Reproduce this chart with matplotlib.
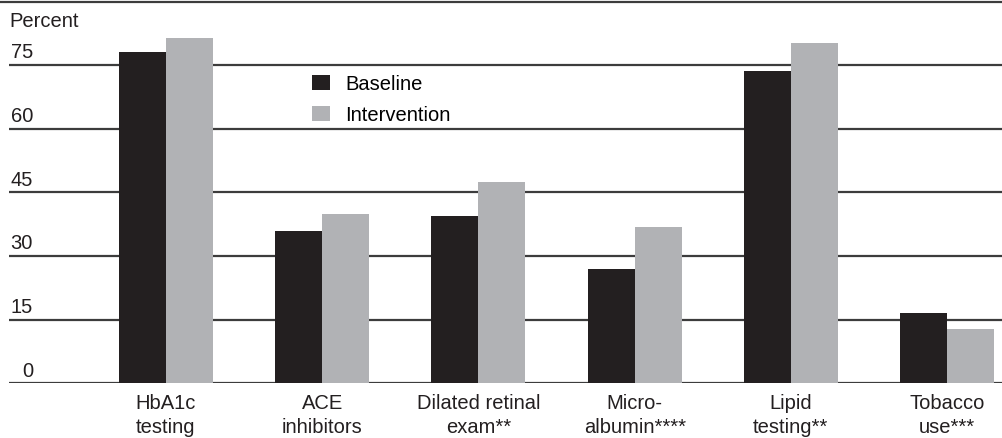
import numpy as np
import matplotlib.pyplot as plt
from matplotlib.lines import Line2D

plt.rcParams['font.family'] = ['Liberation Sans', 'DejaVu Sans']

# Diabetes care measures, baseline vs intervention (percent)
categories = ['HbA1c\ntesting', 'ACE\ninhibitors', 'Dilated retinal\nexam**',
              'Micro-\nalbumin****', 'Lipid\ntesting**', 'Tobacco\nuse***']
baseline = [78.0, 35.9, 39.5, 27.0, 73.7, 16.6]
intervention = [81.5, 39.9, 47.5, 36.9, 80.3, 12.8]
yticks = [0, 15, 30, 45, 60, 75]

black = '#231f20'
grey = '#b1b2b5'
linecol = '#3c3c3c'
fs = 14.5

W, H = 1003, 438
fig = plt.figure(figsize=(W / 100, H / 100), dpi=100)
# axes box in pixels: left 9, right 1003, bottom y=383.3, top y=1.5
ax = fig.add_axes([9 / W, (H - 383.3) / H, (W - 9) / W, (383.3 - 1.5) / H])

x = np.arange(len(categories))
bw = 0.301
ax.bar(x - bw / 2, baseline, bw, color=black, label='Baseline', zorder=3)
ax.bar(x + bw / 2, intervention, bw, color=grey, label='Intervention', zorder=3)

ax.set_xlim(-1.005, 5.358)
ax.set_ylim(0, 90)

for v in yticks:
    ax.axhline(v, color=linecol, lw=1.6, zorder=1)
    ax.text(-0.851, v + 1.6, str(v), ha='right', va='baseline',
            fontsize=fs, color=black)
ax.text(0, 83.95, 'Percent', transform=ax.get_yaxis_transform(),
        ha='left', va='baseline', fontsize=fs, color=black)

# top rule across the full width
fig.add_artist(Line2D([0, 1], [1 - 1.5 / H, 1 - 1.5 / H], color=linecol, lw=1.6))

for s in ax.spines.values():
    s.set_visible(False)
ax.set_yticks([])
ax.set_xticks(x)
ax.set_xticklabels(categories, fontsize=fs, color=black, linespacing=1.3)
ax.tick_params(axis='x', length=0, pad=8)

ax.legend(loc='upper left', bbox_to_anchor=(312 / W, 1 - 74.5 / H),
          bbox_transform=fig.transFigure, frameon=False, fontsize=fs,
          handlelength=0.9, handleheight=0.75, handletextpad=0.75,
          labelspacing=0.6, borderpad=0, borderaxespad=0)

fig.savefig('out.png', dpi=100)
